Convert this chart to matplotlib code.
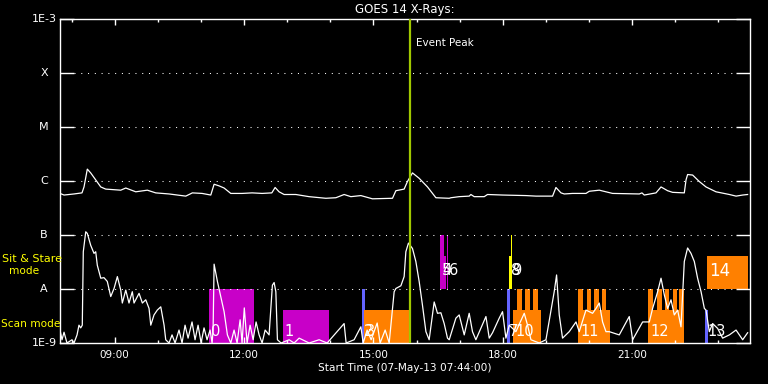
import matplotlib
matplotlib.use("Agg")
import matplotlib.pyplot as plt
import matplotlib.transforms as mtransforms
import numpy as np

# ---------------- data ----------------
start_label = "Start Time (07-May-13 07:44:00)"
start_minutes_of_day = 7 * 60 + 44
span_minutes = 960

# long channel (upper curve): minutes since start, log10 flux (W/m^2)
long_t = [0, 5.6, 19.5, 30.6, 33.4, 38.0, 42.7, 49.7, 56.7, 63.6, 84.5, 91.5, 105.4,
          121.5, 133.2, 151.7, 175.0, 184.2, 197.7, 209.8, 214.4, 221.3, 228.3, 237.6,
          253.3, 267.3, 281.2, 294.7, 299.3, 304.8, 311.8, 328.1, 346.6, 369.9, 383.8,
          395.3, 404.7, 418.6, 434.7, 462.6, 467.3, 478.8, 483.4, 490.4, 499.7, 511.3,
          523.0, 541.5, 543.9, 555.4, 569.3, 571.7, 576.3, 590.2, 594.8, 615.7, 648.3,
          662.2, 685.3, 690.0, 697.0, 701.6, 713.1, 731.8, 736.4, 750.3, 768.8, 806.0,
          809.7, 812.9, 829.2, 836.2, 845.4, 852.3, 868.6, 871.0, 873.2, 880.2, 889.5,
          898.8, 912.7, 931.3, 940.6, 949.8, 956.7]
long_log = [-6.23, -6.26, -6.24, -6.22, -6.11, -5.78, -5.85, -5.98, -6.11, -6.15, -6.17,
            -6.13, -6.20, -6.17, -6.22, -6.24, -6.28, -6.22, -6.23, -6.26, -6.06, -6.09,
            -6.13, -6.23, -6.23, -6.22, -6.23, -6.22, -6.12, -6.20, -6.25, -6.25, -6.29,
            -6.32, -6.31, -6.25, -6.29, -6.27, -6.33, -6.32, -6.18, -6.15, -6.01, -5.85,
            -5.95, -6.11, -6.31, -6.32, -6.31, -6.29, -6.28, -6.25, -6.29, -6.29, -6.25,
            -6.26, -6.27, -6.28, -6.28, -6.12, -6.22, -6.24, -6.23, -6.23, -6.19, -6.17,
            -6.23, -6.24, -6.22, -6.26, -6.22, -6.11, -6.18, -6.21, -6.22, -5.98, -5.88,
            -5.89, -6.01, -6.11, -6.20, -6.25, -6.28, -6.26, -6.25]

# lower curve: minutes since start, log10 flux
short_t = [0, 2.8, 5.6, 9.7, 16.7, 19.5, 23.7, 26.4, 28.8, 31.0, 32.4, 35.8, 38.0, 42.7,
           47.3, 49.7, 51.9, 56.7, 61.2, 65.8, 70.6, 75.2, 79.8, 84.5, 86.7, 91.5, 96.0,
           100.6, 103.0, 110.0, 114.6, 119.3, 123.9, 126.3, 130.8, 135.4, 140.2, 144.8,
           147.1, 151.7, 155.9, 160.1, 165.6, 169.8, 174.0, 178.2, 183.7, 187.9, 192.1,
           196.3, 200.4, 204.6, 208.8, 211.6, 213.0, 214.4, 219.0, 223.7, 228.3, 232.9,
           237.6, 242.2, 246.4, 250.6, 253.3, 256.4, 260.3, 264.5, 268.7, 272.8, 277.0,
           281.2, 285.4, 290.9, 295.5, 297.9, 300.3, 302.5, 307.6, 318.8, 325.7, 332.7,
           346.6, 360.5, 371.7, 395.3, 398.1, 409.2, 418.6, 421.8, 427.3, 432.9, 441.3,
           445.4, 452.4, 458.0, 464.9, 467.3, 474.3, 478.8, 481.2, 484.8, 490.4, 495.1,
           499.7, 504.3, 509.1, 513.6, 520.6, 525.2, 529.9, 534.5, 539.1, 541.5, 550.8,
           555.4, 562.4, 569.3, 573.9, 578.6, 592.6, 597.2, 601.8, 611.1, 615.7, 620.4,
           625.0, 634.3, 645.9, 650.5, 655.2, 666.8, 676.1, 687.6, 690.9, 694.6, 699.2,
           708.5, 717.9, 722.4, 731.8, 741.0, 745.7, 750.3, 754.9, 759.6, 764.2, 778.1,
           792.0, 796.7, 810.6, 819.9, 824.5, 831.5, 836.2, 840.8, 845.4, 850.1, 854.7,
           859.3, 864.0, 868.6, 873.2, 877.9, 882.5, 887.1, 891.9, 896.5, 898.8, 903.4,
           908.0, 915.0, 921.9, 931.3, 940.6, 949.8, 956.7]
short_log = [-8.76, -8.94, -8.80, -9.0, -8.94, -9.0, -8.85, -8.67, -8.72, -8.67, -7.31,
             -6.94, -6.97, -7.19, -7.34, -7.31, -7.56, -7.80, -7.79, -7.86, -8.14, -7.99,
             -7.77, -8.02, -8.26, -8.02, -8.26, -8.05, -8.26, -8.08, -8.26, -8.20, -8.36,
             -8.67, -8.48, -8.39, -8.33, -8.67, -8.94, -9.0, -8.85, -9.0, -8.76, -9.0,
             -8.67, -8.91, -8.61, -8.94, -8.67, -9.0, -8.72, -8.94, -8.76, -9.0, -8.76,
             -7.54, -7.86, -8.14, -8.42, -8.85, -9.0, -8.76, -9.0, -8.57, -9.0, -8.35,
             -9.0, -8.67, -8.94, -8.61, -8.85, -9.0, -8.76, -8.85, -7.93, -7.88, -8.05,
             -8.94, -9.0, -8.94, -9.0, -8.91, -9.0, -8.94, -9.0, -8.64, -9.0, -8.94,
             -8.70, -9.0, -8.76, -8.94, -8.63, -9.0, -8.76, -9.0, -8.05, -7.99, -7.94,
             -7.77, -7.31, -7.15, -7.25, -7.49, -7.86, -8.30, -8.79, -8.94, -8.24, -8.45,
             -8.44, -8.64, -8.91, -8.94, -8.54, -8.48, -8.85, -8.45, -8.79, -8.94, -8.51,
             -8.91, -8.81, -8.54, -8.42, -8.91, -8.67, -8.79, -8.45, -8.67, -8.94, -9.0,
             -8.94, -8.05, -7.74, -8.48, -8.91, -8.79, -8.61, -8.79, -8.39, -8.45, -8.36,
             -8.26, -8.61, -8.79, -8.79, -8.85, -8.51, -8.94, -8.61, -8.61, -8.36, -8.05,
             -7.80, -8.11, -8.36, -8.20, -8.48, -8.39, -8.70, -7.49, -7.24, -7.34, -7.49,
             -7.80, -8.05, -8.36, -8.39, -8.79, -8.64, -8.73, -8.91, -8.85, -8.76, -8.94,
             -8.81]

# observation bars: start/end (minutes since start), low/high flux, colour key, label
bar_start = [207.4, 310.4, 420.8, 423.2, 529.0, 529.0, 538.3, 622.2, 625.0, 627.1,
             630.6, 635.7, 647.3, 658.4, 721.1, 721.1, 732.6, 743.3, 754.1,
             818.5, 818.5, 830.1, 841.7, 852.3, 861.6, 897.8, 900.6]
bar_end = [270.0, 374.4, 424.6, 485.8, 534.5, 536.9, 539.7, 626.0, 628.2, 628.5,
           669.1, 642.7, 654.2, 665.4, 765.6, 727.0, 738.7, 749.3, 759.6,
           867.6, 825.5, 837.0, 847.7, 858.4, 867.6, 901.6, 957.7]
bar_low = [1e-9, 1e-9, 1e-9, 1e-9, 1e-8, 1e-8, 1e-8, 1e-9, 1e-8, 1e-8,
           1e-9, 1e-9, 1e-9, 1e-9, 1e-9, 1e-9, 1e-9, 1e-9, 1e-9,
           1e-9, 1e-9, 1e-9, 1e-9, 1e-9, 1e-9, 1e-9, 1e-8]
bar_high = [1e-8, 4e-9, 1e-8, 4e-9, 1e-7, 4e-8, 1e-7, 1e-8, 4e-8, 1e-7,
            4e-9, 1e-8, 1e-8, 1e-8, 4e-9, 1e-8, 1e-8, 1e-8, 1e-8,
            4e-9, 1e-8, 1e-8, 1e-8, 1e-8, 1e-8, 4e-9, 4e-8]
bar_kind = ["m", "m", "b", "o", "m", "m", "m", "b", "y", "y",
            "o", "o", "o", "o", "o", "o", "o", "o", "o",
            "o", "o", "o", "o", "o", "o", "b", "o"]
bar_label = ["0", "1", "2", "3", "4", "5", "6", "7", "8", "9",
             "10", "", "", "", "11", "", "", "", "",
             "12", "", "", "", "", "", "13", "14"]

event_peak = 487.2  # minutes since start

level_values = [1e-9, 1e-8, 1e-7, 1e-6, 1e-5, 1e-4, 1e-3]
level_labels = ["1E-9", "A", "B", "C", "M", "X", "1E-3"]
grid_levels = [1e-8, 1e-7, 1e-6, 1e-5, 1e-4]

kind_colors = {"m": "#C800C8", "o": "#FF8000", "b": "#6464FF", "y": "#FFFF00"}

# ---------------- figure ----------------
plt.rcParams["font.family"] = ["DejaVu Sans"]
W, H = 768, 384
fig = plt.figure(figsize=(W / 100, H / 100), dpi=100, facecolor="black")
ax = fig.add_axes([60 / W, 41 / H, 690 / W, 324 / H])
ax.set_facecolor("black")
ax.set_yscale("log")
ax.set_xlim(0, span_minutes)
ax.set_ylim(1e-9, 1e-3)

for s in ax.spines.values():
    s.set_color("white")
    s.set_linewidth(1.0)

# bars
for s0, s1, lo, hi, k in zip(bar_start, bar_end, bar_low, bar_high, bar_kind):
    ax.fill_between([s0, s1], [lo, lo], [hi, hi], color=kind_colors[k], linewidth=0, zorder=1)

# bar labels
for s0, lo, lab in zip(bar_start, bar_low, bar_label):
    if not lab:
        continue
    yv = 2.2e-8 if lo >= 1e-8 else 1.6e-9
    fs = 12 if lab == "14" else 10.5
    ax.text(s0 + 2.5, yv, lab, color="white", fontsize=fs, ha="left", va="center",
            zorder=5)

# grid lines (dotted)
for g in grid_levels:
    ax.axhline(g, xmin=14 / 690, xmax=1 - 14 / 690, color="white", linewidth=0.75,
               linestyle=(0, (1, 5.5)), zorder=2)

# curves
ax.plot(long_t, 10 ** np.array(long_log), color="white", linewidth=0.9, zorder=3)
ax.plot(short_t, 10 ** np.array(short_log), color="white", linewidth=0.9, zorder=3,
        clip_on=True)

# event peak
ax.axvline(event_peak, color="#A0C800", linewidth=1.6, zorder=4)
ax.text(event_peak + 7.5, 10 ** -3.45, "Event Peak", color="white", fontsize=7.5,
        ha="left", va="center")

# y ticks
ax.set_yticks(level_values)
ax.yaxis.set_minor_locator(matplotlib.ticker.NullLocator())
ax.tick_params(axis="y", which="major", direction="in", length=10, width=1,
               left=True, right=True, colors="white", labelleft=False)
trans = mtransforms.blended_transform_factory(ax.transAxes, ax.transData)
for v, lab in zip(level_values, level_labels):
    ax.text(-16 / 690, v, lab, transform=trans, color="white", fontsize=8,
            ha="center", va="center")

# x ticks
major_hours = [9, 12, 15, 18, 21]
minor_hours = list(range(8, 24))
ax.set_xticks([h * 60 - start_minutes_of_day for h in major_hours])
ax.set_xticklabels([f"{h:02d}:00" for h in major_hours])
ax.set_xticks([h * 60 - start_minutes_of_day for h in minor_hours], minor=True)
ax.tick_params(axis="x", which="major", direction="in", length=4.5, width=1,
               top=True, bottom=True, colors="white", labelsize=7.5, pad=5)
ax.tick_params(axis="x", which="minor", direction="in", length=2.2, width=1,
               top=True, bottom=True, colors="white")

# texts
fig.text(405 / W, 1 - 10 / H, "GOES 14 X-Rays:", color="white", fontsize=8.5,
         ha="center", va="center")
fig.text(405 / W, 1 - 368 / H, start_label, color="white", fontsize=7.6,
         ha="center", va="center")
fig.text(2 / W, 1 - 259 / H, "Sit & Stare", color="yellow", fontsize=8,
         ha="left", va="center")
fig.text(24 / W, 1 - 271.5 / H, "mode", color="yellow", fontsize=7.6,
         ha="center", va="center")
fig.text(1 / W, 1 - 324 / H, "Scan mode", color="yellow", fontsize=7.6,
         ha="left", va="center")

fig.savefig("out.png", dpi=100, facecolor="black")
